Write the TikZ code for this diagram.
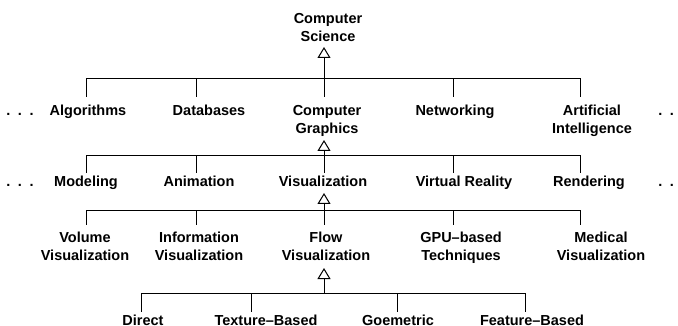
\documentclass[tikz,border=0pt]{standalone}
\usepackage{fontspec}
\setmainfont{Liberation Sans}
\usetikzlibrary{arrows.meta}

\tikzset{
	area/.style={font=\fontsize{14.5}{18}\selectfont\bfseries, align=center, anchor=base, inner sep=0pt},
	isa/.style={-{Triangle[open, width=13pt, length=11pt]}},
}
\newcommand{\moredots}{\bfseries.\hspace{7.5pt}.\hspace{7.5pt}.}

\begin{document}
\begin{tikzpicture}[x=1pt, y=-1pt, line width=1pt]
			\useasboundingbox (0, 0) rectangle (678, 326);

			% the levels (base = last line)
			\node [area] (cs) at (328, 42) {Computer\\Science};

			\node [area] (alg) at (88, 116) {Algorithms};
			\node [area] (db) at (209, 116) {Databases};
			\node [area] (cg) at (327, 134) {Computer\\Graphics};
			\node [area] (net) at (455, 116) {Networking};
			\node [area] (ai) at (592, 134) {Artificial\\Intelligence};

			\node [area] (mod) at (86, 187) {Modeling};
			\node [area] (anim) at (199, 187) {Animation};
			\node [area] (vis) at (323, 187) {Visualization};
			\node [area] (vr) at (464, 187) {Virtual Reality};
			\node [area] (rend) at (589, 187) {Rendering};

			\node [area] (volvis) at (85, 261) {Volume\\Visualization};
			\node [area] (infovis) at (199, 261) {Information\\Visualization};
			\node [area] (flowvis) at (326, 261) {Flow\\Visualization};
			\node [area] (gpu) at (461, 261) {GPU--based\\Techniques};
			\node [area] (medvis) at (601, 261) {Medical\\Visualization};

			\node [area] (direct) at (143, 325) {Direct};
			\node [area] (texture) at (266, 325) {Texture--Based};
			\node [area] (geom) at (398, 325) {Goemetric};
			\node [area] (feature) at (532, 325) {Feature--Based};

			\node [area] (dots1l) at (20, 116) {\moredots};
			\node [area] (dots1r) at (672, 116) {\moredots};
			\node [area] (dots2l) at (20, 187) {\moredots};
			\node [area] (dots2r) at (672, 187) {\moredots};

			% Computer Science
			\coordinate (cs-bar) at (324, 79);
			\coordinate (alg-in) at (86, 97);
			\coordinate (db-in) at (196, 97);
			\coordinate (cg-in) at (324, 97);
			\coordinate (net-in) at (453, 97);
			\coordinate (ai-in) at (580, 97);
			\foreach \c in {alg, db, cg, net, ai}
				\draw (cs-bar) -| (\c-in);
			\draw [isa] (cs-bar) -- ([yshift=-5pt]cs.base -| cs-bar);

			% Computer Graphics
			\coordinate (cg-bar) at (324, 156);
			\coordinate (mod-in) at (86, 173);
			\coordinate (anim-in) at (196, 173);
			\coordinate (vis-in) at (324, 173);
			\coordinate (vr-in) at (453, 173);
			\coordinate (rend-in) at (580, 173);
			\foreach \c in {mod, anim, vis, vr, rend}
				\draw (cg-bar) -| (\c-in);
			\draw [isa] (cg-bar) -- ([yshift=-6pt]cg.base -| cg-bar);

			% Visualization
			\coordinate (vis-bar) at (324, 211);
			\coordinate (volvis-in) at (86, 225);
			\coordinate (infovis-in) at (196, 225);
			\coordinate (flowvis-in) at (324, 225);
			\coordinate (gpu-in) at (453, 225);
			\coordinate (medvis-in) at (580, 225);
			\foreach \c in {volvis, infovis, flowvis, gpu, medvis}
				\draw (vis-bar) -| (\c-in);
			\draw [isa] (vis-bar) -- ([yshift=-6pt]vis.base -| vis-bar);

			% Flow Visualization
			\coordinate (flowvis-bar) at (324, 293.5);
			\coordinate (direct-in) at (141, 312);
			\coordinate (texture-in) at (251, 312);
			\coordinate (geom-in) at (397, 312);
			\coordinate (feature-in) at (525, 312);
			\foreach \c in {direct, texture, geom, feature}
				\draw (flowvis-bar) -| (\c-in);
			\draw [isa] (flowvis-bar) -- ([yshift=-7pt]flowvis.base -| flowvis-bar);
		\end{tikzpicture}
\end{document}
